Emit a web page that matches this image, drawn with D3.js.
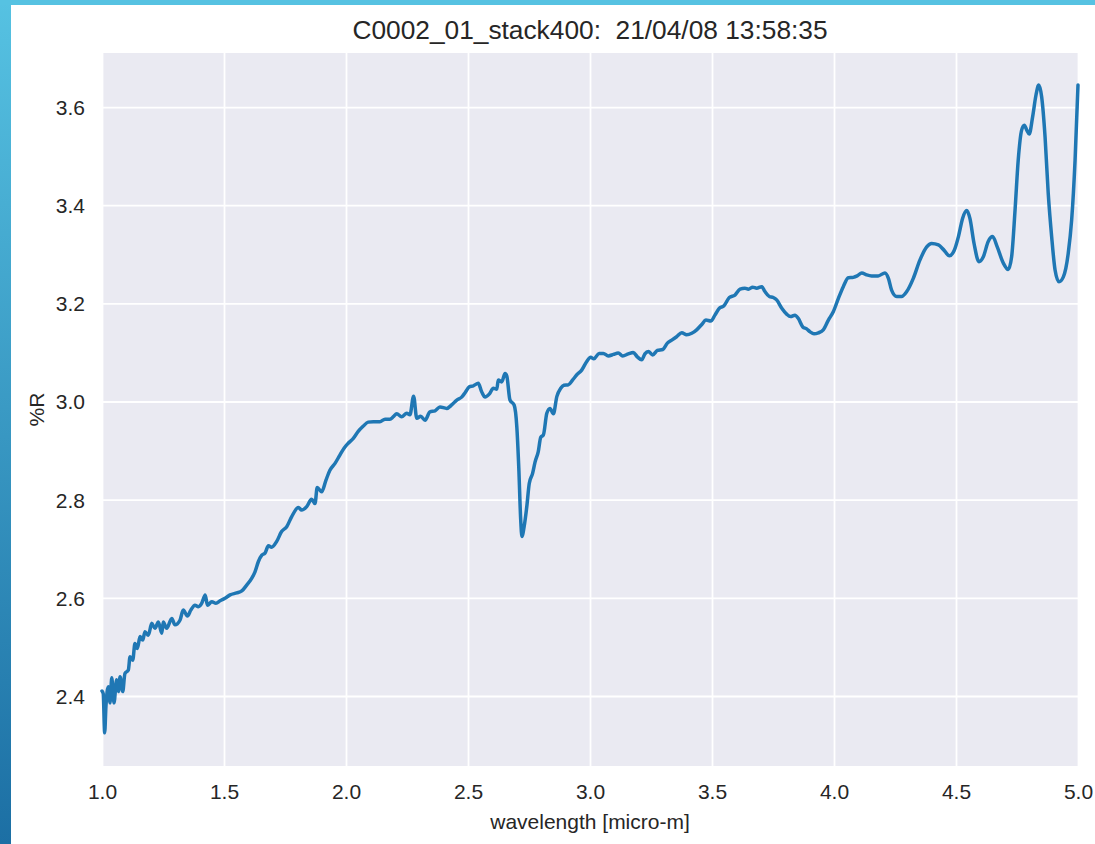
<!DOCTYPE html>
<html lang="en">
<head>
    <meta charset="UTF-8">
    <title>C0002_01_stack400</title>
    <script src="https://d3js.org/d3.v7.min.js"></script>
    <style>
        body { margin: 0; background: #fff; }
        svg { display: block; font-family: "Liberation Sans", Arial, sans-serif; }
        .tick-label { font-size: 21px; fill: #262626; }
        .axis-label { font-size: 21px; fill: #262626; }
        .title { font-size: 26.3px; fill: #262626; white-space: pre; }
    </style>
</head>
<body>
    <svg id="chart" width="1095" height="844"></svg>

    <script>
        // wavelength [micro-m] and %R
        const wavelength = [
            1.000, 1.005, 1.011, 1.016, 1.026, 1.033, 1.040, 1.049, 1.060, 1.067, 1.074, 1.085, 1.094,
            1.108, 1.115, 1.126, 1.135, 1.145, 1.156, 1.167, 1.176, 1.190, 1.204, 1.217, 1.231, 1.245,
            1.251, 1.265, 1.286, 1.299, 1.320, 1.333, 1.350, 1.364, 1.381, 1.395, 1.409, 1.423, 1.432,
            1.450, 1.467, 1.484, 1.504, 1.525, 1.552, 1.573, 1.593, 1.614, 1.627, 1.641, 1.655, 1.668,
            1.682, 1.695, 1.716, 1.736, 1.757, 1.777, 1.805, 1.818, 1.839, 1.859, 1.873, 1.882, 1.900,
            1.918, 1.934, 1.955, 1.975, 1.992, 2.009, 2.030, 2.050, 2.071, 2.091, 2.112, 2.139, 2.160,
            2.180, 2.194, 2.208, 2.228, 2.249, 2.262, 2.277, 2.290, 2.306, 2.324, 2.344, 2.365, 2.385,
            2.413, 2.433, 2.454, 2.474, 2.488, 2.505, 2.522, 2.542, 2.556, 2.570, 2.587, 2.604, 2.618,
            2.624, 2.638, 2.652, 2.659, 2.672, 2.689, 2.700, 2.708, 2.716, 2.721, 2.730, 2.741, 2.751,
            2.765, 2.775, 2.788, 2.798, 2.809, 2.823, 2.836, 2.850, 2.864, 2.880, 2.893, 2.911, 2.929,
            2.945, 2.966, 2.986, 3.003, 3.016, 3.037, 3.055, 3.075, 3.096, 3.116, 3.134, 3.157, 3.177,
            3.194, 3.212, 3.225, 3.239, 3.257, 3.276, 3.298, 3.317, 3.335, 3.355, 3.376, 3.396, 3.417,
            3.437, 3.458, 3.475, 3.495, 3.512, 3.530, 3.549, 3.571, 3.594, 3.615, 3.635, 3.649, 3.667,
            3.683, 3.704, 3.717, 3.735, 3.751, 3.765, 3.786, 3.806, 3.822, 3.840, 3.854, 3.872, 3.888,
            3.902, 3.918, 3.936, 3.956, 3.977, 3.997, 4.018, 4.038, 4.059, 4.079, 4.095, 4.114, 4.134,
            4.154, 4.181, 4.209, 4.223, 4.236, 4.257, 4.277, 4.298, 4.325, 4.352, 4.380, 4.400, 4.428,
            4.448, 4.473, 4.492, 4.510, 4.527, 4.544, 4.557, 4.574, 4.594, 4.612, 4.632, 4.650, 4.669,
            4.694, 4.714, 4.728, 4.742, 4.755, 4.769, 4.780, 4.790, 4.800, 4.814, 4.828, 4.839, 4.851,
            4.865, 4.878, 4.892, 4.906, 4.922, 4.940, 4.960, 4.974, 4.988, 5.000
        ];
        const reflectance = [
            2.410, 2.405, 2.325, 2.378, 2.419, 2.386, 2.437, 2.386, 2.433, 2.409, 2.439, 2.409, 2.446,
            2.453, 2.480, 2.473, 2.507, 2.497, 2.521, 2.514, 2.531, 2.524, 2.548, 2.538, 2.551, 2.528,
            2.551, 2.538, 2.558, 2.545, 2.555, 2.575, 2.563, 2.575, 2.585, 2.582, 2.589, 2.606, 2.585,
            2.592, 2.589, 2.594, 2.599, 2.606, 2.610, 2.614, 2.626, 2.640, 2.653, 2.674, 2.687, 2.691,
            2.706, 2.703, 2.715, 2.735, 2.745, 2.765, 2.784, 2.779, 2.786, 2.801, 2.792, 2.825, 2.816,
            2.840, 2.860, 2.874, 2.891, 2.905, 2.915, 2.925, 2.939, 2.950, 2.958, 2.959, 2.959, 2.964,
            2.964, 2.969, 2.975, 2.969, 2.976, 2.973, 3.011, 2.966, 2.970, 2.962, 2.979, 2.981, 2.989,
            2.986, 2.993, 3.003, 3.009, 3.018, 3.030, 3.032, 3.037, 3.020, 3.009, 3.015, 3.027, 3.025,
            3.044, 3.040, 3.057, 3.052, 3.003, 2.993, 2.949, 2.867, 2.759, 2.725, 2.745, 2.786, 2.833,
            2.854, 2.877, 2.898, 2.927, 2.932, 2.976, 2.986, 2.975, 3.010, 3.027, 3.033, 3.034, 3.044,
            3.054, 3.064, 3.081, 3.090, 3.087, 3.098, 3.098, 3.093, 3.096, 3.099, 3.093, 3.097, 3.100,
            3.091, 3.085, 3.097, 3.102, 3.095, 3.104, 3.106, 3.119, 3.125, 3.132, 3.140, 3.136, 3.139,
            3.146, 3.157, 3.166, 3.164, 3.176, 3.190, 3.195, 3.212, 3.217, 3.229, 3.231, 3.229, 3.233,
            3.231, 3.234, 3.224, 3.214, 3.212, 3.207, 3.190, 3.178, 3.173, 3.176, 3.169, 3.152, 3.148,
            3.142, 3.138, 3.140, 3.146, 3.166, 3.183, 3.210, 3.234, 3.252, 3.253, 3.256, 3.262, 3.258,
            3.256, 3.256, 3.262, 3.251, 3.227, 3.214, 3.214, 3.224, 3.251, 3.288, 3.315, 3.322, 3.319,
            3.310, 3.297, 3.307, 3.336, 3.373, 3.389, 3.373, 3.322, 3.285, 3.295, 3.326, 3.336, 3.315,
            3.282, 3.269, 3.295, 3.390, 3.492, 3.553, 3.563, 3.553, 3.545, 3.580, 3.625, 3.645, 3.621,
            3.539, 3.424, 3.336, 3.268, 3.244, 3.254, 3.302, 3.370, 3.492, 3.645
        ];
        const xTicks = [1.0, 1.5, 2.0, 2.5, 3.0, 3.5, 4.0, 4.5, 5.0];
        const yTicks = [2.4, 2.6, 2.8, 3.0, 3.2, 3.4, 3.6];
        const titleText = "C0002_01_stack400:  21/04/08 13:58:35";

        const W = 1095, H = 844;
        const plot = { left: 102, top: 53, right: 1078, bottom: 766 };

        const svg = d3.select("#chart");

        // blue frame strips on the left and top
        const defs = svg.append("defs");
        const grad = defs.append("linearGradient")
            .attr("id", "frame")
            .attr("x1", 0).attr("y1", 0).attr("x2", 0).attr("y2", 1);
        grad.append("stop").attr("offset", "0%").attr("stop-color", "#56c2e2");
        grad.append("stop").attr("offset", "100%").attr("stop-color", "#1c6fa4");
        svg.append("rect").attr("x", 0).attr("y", 0).attr("width", 11).attr("height", H).attr("fill", "url(#frame)");
        svg.append("rect").attr("x", 0).attr("y", 0).attr("width", W).attr("height", 5).attr("fill", "#56c2e2");

        const x = d3.scaleLinear().domain([1.0, 5.0]).range([plot.left, plot.right]);
        const y = d3.scaleLinear().domain([2.2574, 3.7101]).range([plot.bottom, plot.top]);

        svg.append("rect")
            .attr("x", plot.left).attr("y", plot.top)
            .attr("width", plot.right - plot.left)
            .attr("height", plot.bottom - plot.top)
            .attr("fill", "#eaeaf2");

        // gridlines
        const xAxis = svg.append("g")
            .attr("transform", `translate(0,${plot.bottom})`)
            .call(d3.axisBottom(x).tickValues(xTicks).tickFormat(d3.format(".1f"))
                .tickSize(-(plot.bottom - plot.top)).tickPadding(17));
        const yAxis = svg.append("g")
            .attr("transform", `translate(${plot.left},0)`)
            .call(d3.axisLeft(y).tickValues(yTicks).tickFormat(d3.format(".1f"))
                .tickSize(-(plot.right - plot.left)).tickPadding(17));

        [xAxis, yAxis].forEach(a => {
            a.select(".domain").remove();
            a.selectAll(".tick line").attr("stroke", "#fff").attr("stroke-width", 1.8);
            a.selectAll(".tick text").attr("class", "tick-label").attr("fill", null)
                .style("font-family", null).style("font-size", null);
            a.attr("font-family", null).attr("font-size", null);
        });
        xAxis.selectAll(".tick text").attr("dy", "0.75em");
        yAxis.selectAll(".tick text").attr("dy", "0.35em");

        const data = wavelength.map((w, i) => ({ w: w, r: reflectance[i] }));
        const line = d3.line().x(d => x(d.w)).y(d => y(d.r)).curve(d3.curveMonotoneX);

        svg.append("path")
            .datum(data)
            .attr("d", line)
            .attr("fill", "none")
            .attr("stroke", "#1f77b4")
            .attr("stroke-width", 3.5)
            .attr("stroke-linejoin", "round")
            .attr("stroke-linecap", "round");

        svg.append("text")
            .attr("class", "title")
            .attr("x", (plot.left + plot.right) / 2)
            .attr("y", 39)
            .attr("text-anchor", "middle")
            .text(titleText);

        svg.append("text")
            .attr("class", "axis-label")
            .attr("x", (plot.left + plot.right) / 2)
            .attr("y", 829)
            .attr("text-anchor", "middle")
            .text("wavelength [micro-m]");

        svg.append("text")
            .attr("class", "axis-label")
            .attr("transform", `translate(44,${(plot.top + plot.bottom) / 2}) rotate(-90)`)
            .attr("text-anchor", "middle")
            .text("%R");
    </script>
</body>
</html>
